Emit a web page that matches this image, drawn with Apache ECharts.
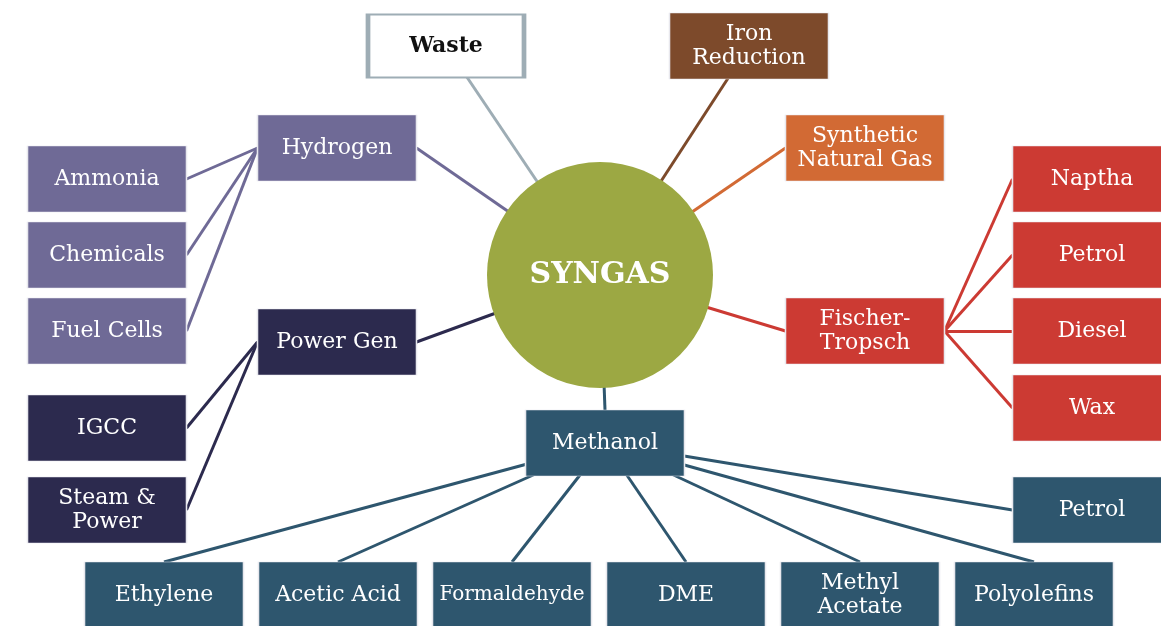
<!DOCTYPE html>
<html>
<head>
<meta charset="utf-8">
<script src="https://cdn.jsdelivr.net/npm/echarts@6/dist/echarts.min.js"></script>
<style>
html, body { margin: 0; padding: 0; background: #fff; }
#main { width: 1161px; height: 626px; }
</style>
</head>
<body>
<div id="main"></div>
<script>
// node layout of the diagram (centre x / y in the picture's units)
var names = ['SYNGAS', 'Waste', 'Iron\nReduction', 'Synthetic\nNatural Gas', 'Hydrogen',
    'Ammonia', 'Chemicals', 'Fuel Cells', 'Power Gen', 'IGCC', 'Steam &\nPower',
    'Fischer-\nTropsch', 'Naptha', 'Petrol', 'Diesel', 'Wax',
    'Methanol', 'Petrol', 'Ethylene', 'Acetic Acid', 'Formaldehyde', 'DME',
    'Methyl\nAcetate', 'Polyolefins'];
var xs = [600, 446, 749, 865, 337, 107, 107, 107, 337, 107, 107,
    865, 1092, 1092, 1092, 1092, 605, 1092, 164, 338, 512, 686, 860, 1034];
var ys = [275, 46, 46, 148, 148, 179, 255, 331, 342, 428, 510,
    331, 179, 255, 331, 408, 443, 510, 595, 595, 595, 595, 595, 595];
var groups = ['core', 'waste', 'iron', 'sng', 'h2', 'h2', 'h2', 'h2', 'power', 'power', 'power',
    'ft', 'ft', 'ft', 'ft', 'ft', 'meoh', 'meoh', 'meoh', 'meoh', 'meoh', 'meoh', 'meoh', 'meoh'];

// links: [from, to, anchor on from, anchor on to]  (c = centre, l/r/t/b = side)
var links = [
    [1, 0, 'c', 'c'], [2, 0, 'c', 'c'], [3, 0, 'l', 'c'], [4, 0, 'r', 'c'],
    [8, 0, 'r', 'c'], [11, 0, 'l', 'c'], [16, 0, 't', 'c'],
    [4, 5, 'l', 'r'], [4, 6, 'l', 'r'], [4, 7, 'l', 'r'],
    [8, 9, 'l', 'r'], [8, 10, 'l', 'r'],
    [11, 12, 'r', 'l'], [11, 13, 'r', 'l'], [11, 14, 'r', 'l'], [11, 15, 'r', 'l'],
    [16, 17, 'c', 'l'], [16, 18, 'c', 't'], [16, 19, 'c', 't'], [16, 20, 'c', 't'],
    [16, 21, 'c', 't'], [16, 22, 'c', 't'], [16, 23, 'c', 't']
];

var colors = {
    core: '#9ca843', waste: '#ffffff', iron: '#7d4a2b', sng: '#d26a34',
    h2: '#6f6a96', power: '#2c2a4e', ft: '#cc3a33', meoh: '#2e566e'
};
var lineColors = {
    core: '#9ca843', waste: '#9eadb5', iron: '#7d4a2b', sng: '#d26a34',
    h2: '#6f6a96', power: '#2c2a4e', ft: '#cc3a33', meoh: '#2e566e'
};
var boxW = 159, boxH = 66;

function anchor(i, side) {
    var x = xs[i], y = ys[i];
    if (side == 'l') x -= boxW / 2;
    if (side == 'r') x += boxW / 2;
    if (side == 't') y -= boxH / 2;
    if (side == 'b') y += boxH / 2;
    return [x, y];
}

var nodeData = [];
for (var i = 0; i < names.length; i++) {
    var g = groups[i];
    var item = {
        name: names[i],
        value: [xs[i], ys[i]],
        symbol: 'rect',
        symbolSize: [boxW, boxH],
        itemStyle: { color: colors[g], opacity: 1, borderColor: '#e8e8ee', borderWidth: 1 },
        label: {
            show: true, position: 'inside', formatter: '{b}',
            color: '#fff', fontFamily: 'DejaVu Serif', fontSize: 22, lineHeight: 24
        }
    };
    if (names[i] == 'Formaldehyde') item.label.fontSize = 20;
    if (g == 'core') {
        item.symbol = 'circle';
        item.symbolSize = 226;
        item.itemStyle = { color: colors.core, opacity: 1 };
        item.label.fontSize = 30;
        item.label.fontWeight = 'bold';
    }
    if (g == 'waste') {
        item.symbolSize = [156, 63];
        item.itemStyle = { color: '#fff', opacity: 1, borderColor: '#9eadb5', borderWidth: 3 };
        item.label.color = '#111';
        item.label.fontWeight = 'bold';
    }
    nodeData.push(item);
}

var linkData = links.map(function (l) {
    var child = l[0] == 0 ? l[1] : (l[1] == 0 ? l[0] : l[1]);
    return {
        coords: [anchor(l[0], l[2]), anchor(l[1], l[3])],
        lineStyle: { color: lineColors[groups[child]], width: 3, opacity: 1 }
    };
});

var myChart = echarts.init(document.getElementById('main'));
option = {
    animation: false,
    grid: { left: 0, right: 0, top: 0, bottom: 0 },
    xAxis: { type: 'value', min: 0, max: 1161, show: false },
    yAxis: { type: 'value', min: 0, max: 626, inverse: true, show: false },
    series: [
        {
            type: 'lines',
            coordinateSystem: 'cartesian2d',
            z: 1,
            silent: true,
            data: linkData
        },
        {
            type: 'scatter',
            z: 2,
            clip: false,
            emphasis: { disabled: true },
            data: nodeData
        }
    ]
};
myChart.setOption(option);
window.onresize = myChart.resize;
</script>
</body>
</html>
